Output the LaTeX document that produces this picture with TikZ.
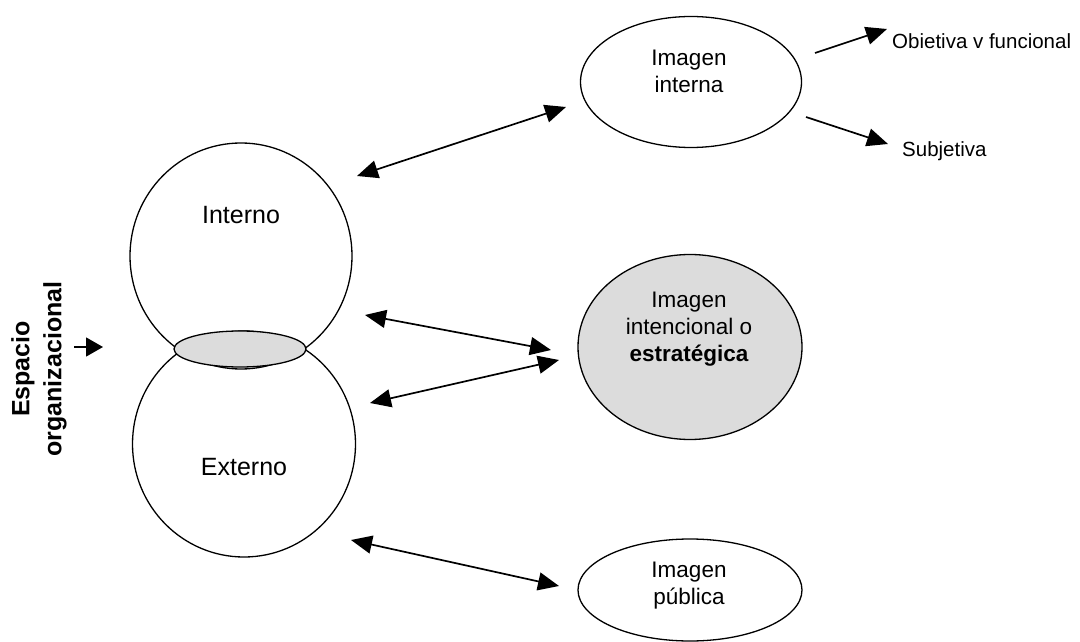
\documentclass[tikz,border=0pt]{standalone}
\usepackage{fontspec}
\setmainfont{Liberation Sans}
\usetikzlibrary{shapes.geometric,arrows.meta,calc}
\definecolor{shade}{HTML}{DCDCDC}
\begin{document}
\begin{tikzpicture}[x=1bp,y=-1bp,
  outline/.style={draw=black,line width=1.3bp,ellipse,inner sep=0pt},
  bigtxt/.style={font=\fontsize{25bp}{30bp}\selectfont,inner sep=0pt},
  imgtxt/.style={font=\fontsize{22.5bp}{27bp}\selectfont,inner sep=0pt,align=center},
  sidetxt/.style={font=\fontsize{20.5bp}{25bp}\selectfont,inner sep=0pt,anchor=west},
  biarrow/.style={line width=1.7bp,{Triangle[length=21bp,width=18bp]}-{Triangle[length=21bp,width=18bp]}},
  onearrow/.style={line width=1.7bp,-{Triangle[length=21bp,width=18bp]}}]
\useasboundingbox (0,0) rectangle (1080,642);

% organisational space: two overlapping circles joined by a shaded lens
\node[outline,minimum width=222bp,minimum height=226bp] (int) at (241,256) {};
\node[outline,minimum width=223bp,minimum height=226bp] (ext) at (244,444) {};
\node[outline,fill=shade,minimum width=132bp,minimum height=36bp] (lens) at (240,349) {};
\node[bigtxt] (intlbl) at (241,215) {Interno};
\node[bigtxt] (extlbl) at (244,467) {Externo};

% vertical caption with its small pointer
\node[font=\fontsize{25bp}{32bp}\selectfont\bfseries,rotate=90,align=center,inner sep=0pt]
  (esp) at (39,369) {Espacio\\organizacional};
\coordinate (espfrom) at (74,347);
\coordinate (espto) at (103,347);
\draw[line width=1.4bp,-{Triangle[length=17bp,width=19bp]}] (espfrom) -- (espto);

% the three images
\node[outline,minimum width=221bp,minimum height=131bp] (iint) at (691,82) {};
\node[imgtxt] (iintlbl) at (689,71) {Imagen\\interna};
\node[outline,fill=shade,minimum width=224bp,minimum height=185bp] (iest) at (690,347) {};
\node[imgtxt] (iestlbl) at (689,329) {Imagen\\intencional o\\\textbf{estratégica}};
\node[outline,minimum width=224bp,minimum height=102bp] (ipub) at (690,590) {};
\node[imgtxt] (ipublbl) at (689,586) {Imagen\\pública};

% side labels of the internal image
\node[sidetxt] (obj) at (892,41) {Obietiva v funcional};
\node[sidetxt] (sub) at (902,151) {Subjetiva};

% connector end points, placed next to the shapes they join
\coordinate (c1a) at ($(int.center)+(116,-80)$);
\coordinate (c1b) at ($(iint.center)+(-125,25)$);
\coordinate (c2a) at ($(int.center)+(124,59)$);
\coordinate (c2b) at ($(iest.center)+(-139,3)$);
\coordinate (c3a) at ($(ext.center)+(126,-41)$);
\coordinate (c3b) at ($(iest.center)+(-131,13)$);
\coordinate (c4a) at ($(ext.center)+(107,96)$);
\coordinate (c4b) at ($(ipub.center)+(-131,-4)$);
\coordinate (o1) at ($(iint.center)+(124,-29)$);
\coordinate (o2) at ($(obj.west)+(-5,-12)$);
\coordinate (s1) at ($(iint.center)+(115,35)$);
\coordinate (s2) at ($(sub.west)+(-14,-7)$);

\draw[biarrow] (c1a) -- (c1b);
\draw[biarrow] (c2a) -- (c2b);
\draw[biarrow] (c3a) -- (c3b);
\draw[biarrow] (c4a) -- (c4b);
\draw[onearrow] (o1) -- (o2);
\draw[onearrow] (s1) -- (s2);
\end{tikzpicture}
\end{document}
